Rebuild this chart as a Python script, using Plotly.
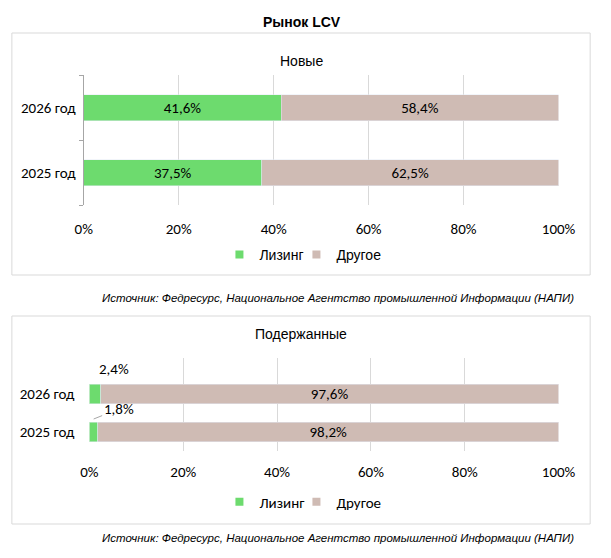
import plotly.graph_objects as go

# ---- data ----
years = ["2025 год", "2026 год"]
new_leasing = [37.5, 41.6]
new_other = [62.5, 58.4]
used_leasing = [1.8, 2.4]
used_other = [98.2, 97.6]
series_names = ["Лизинг", "Другое"]
x_ticks = [0, 20, 40, 60, 80, 100]
x_tick_labels = ["0%", "20%", "40%", "60%", "80%", "100%"]
title_text = "Рынок LCV"
panel_titles = ["Новые", "Подержанные"]
source_text = "Источник: Федресурс, Национальное Агентство промышленной Информации (НАПИ)"

GREEN = "#6DDB6E"
BEIGE = "#CFBBB4"
GRID = "#D9D9D9"
W, H = 611, 558

def px(x):
    return x / W

def py(y):
    return 1 - y / H

ARIAL = "Liberation Sans, Arial, sans-serif"
CALI = "Carlito, Lato, sans-serif"
FS = 15

fig = go.Figure()

bar_text_font = dict(family=CALI, size=FS, color="#000")

# top panel bars
fig.add_trace(go.Bar(y=years, x=new_leasing, orientation="h", marker_color=GREEN,
                     width=0.4, texttemplate="%{x:.1f}%",
                     textposition="inside", insidetextanchor="middle", constraintext="none",
                     textfont=bar_text_font,
                     xaxis="x", yaxis="y", showlegend=False, hoverinfo="skip"))
fig.add_trace(go.Bar(y=years, x=new_other, orientation="h", marker_color=BEIGE,
                     width=0.4, texttemplate="%{x:.1f}%",
                     textposition="inside", insidetextanchor="middle", constraintext="none",
                     textfont=bar_text_font,
                     xaxis="x", yaxis="y", showlegend=False, hoverinfo="skip"))
# bottom panel bars
fig.add_trace(go.Bar(y=years, x=used_leasing, orientation="h", marker_color=GREEN,
                     width=0.52, textposition="none",
                     xaxis="x2", yaxis="y2", showlegend=False, hoverinfo="skip"))
fig.add_trace(go.Bar(y=years, x=used_other, orientation="h", marker_color=BEIGE,
                     width=0.52, texttemplate="%{x:.1f}%",
                     textposition="inside", insidetextanchor="middle", constraintext="none",
                     textfont=bar_text_font,
                     xaxis="x2", yaxis="y2", showlegend=False, hoverinfo="skip"))

# legend entries (small square markers)
for lg, xa, ya in (("legend", "x", "y"), ("legend2", "x2", "y2")):
    for i, (name, col) in enumerate(zip(series_names, [GREEN, BEIGE])):
        fig.add_trace(go.Scatter(x=[None], y=[None], mode="markers", name=name,
                                 marker=dict(symbol="square", size=8, color=col),
                                 legendwidth=32 if i == 0 else None,
                                 xaxis=xa, yaxis=ya, legend=lg, showlegend=True))

# labels for small leasing values in bottom panel
annotations = []
annotations.append(dict(x=used_leasing[1], y=years[1], xref="x2", yref="y2",
                        text=f"{used_leasing[1]:.1f}%".replace(".", ","),
                        showarrow=False, xanchor="left", yanchor="middle",
                        xshift=-4, yshift=25,
                        font=dict(family=CALI, size=FS, color="#000")))
annotations.append(dict(x=used_leasing[0] / 2, y=years[0], xref="x2", yref="y2",
                        text=f"{used_leasing[0]:.1f}%".replace(".", ","),
                        showarrow=True, arrowhead=0, arrowwidth=1, arrowcolor="#A6A6A6",
                        ax=25, ay=-10, yshift=13,
                        font=dict(family=CALI, size=FS, color="#000")))

annotations += [
    dict(x=0.5, y=py(12), xref="paper", yref="paper", text=f"<b>{title_text}</b>",
         showarrow=False, font=dict(family=ARIAL, size=14, color="#000")),
    dict(x=px(305), y=py(51), xref="paper", yref="paper", text=panel_titles[0],
         showarrow=False, font=dict(family=ARIAL, size=14, color="#000")),
    dict(x=px(305), y=py(334), xref="paper", yref="paper", text=panel_titles[1],
         showarrow=False, font=dict(family=ARIAL, size=14, color="#000")),
    dict(x=px(592), y=py(298), xref="paper", yref="paper", text=f"<i>{source_text}</i>",
         showarrow=False, xanchor="right",
         font=dict(family=ARIAL, size=11.5, color="#000")),
    dict(x=px(592), y=py(546), xref="paper", yref="paper", text=f"<i>{source_text}</i>",
         showarrow=False, xanchor="right",
         font=dict(family=ARIAL, size=11.5, color="#000")),
]

shapes = [
    dict(type="rect", xref="paper", yref="paper", x0=px(3), x1=px(607), y0=py(275), y1=py(33),
         line=dict(color=GRID, width=1)),
    dict(type="rect", xref="paper", yref="paper", x0=px(3), x1=px(607), y0=py(524), y1=py(316),
         line=dict(color=GRID, width=1)),
]

xcommon = dict(range=[0, 100], tickmode="array", tickvals=x_ticks, ticktext=x_tick_labels,
               showgrid=True, gridcolor=GRID, gridwidth=1, zeroline=False, showline=False,
               ticks="", tickfont=dict(family=CALI, size=FS, color="#000"), fixedrange=True)

legend_common = dict(orientation="h", xanchor="center", yanchor="middle", itemwidth=30,
                     traceorder="normal", bgcolor="rgba(0,0,0,0)")

fig.update_layout(
    autosize=True, margin=dict(l=0, r=0, t=0, b=0),
    paper_bgcolor="white", plot_bgcolor="white",
    barmode="stack", separators=", ",
    xaxis=dict(domain=[px(78), px(574)], anchor="y", ticklabelstandoff=13, **xcommon),
    yaxis=dict(domain=[py(205), py(75)], anchor="x", categoryorder="array",
               categoryarray=years, showgrid=False, showline=True, linecolor="#A6A6A6",
               ticks="outside", ticklen=4, tickcolor="#A6A6A6", tickson="boundaries",
               ticklabelstandoff=4, fixedrange=True,
               tickfont=dict(family=CALI, size=FS, color="#000")),
    xaxis2=dict(domain=[px(84), px(574)], anchor="y2", ticklabelstandoff=10, **xcommon),
    yaxis2=dict(domain=[py(451), py(358)], anchor="x2", categoryorder="array",
                categoryarray=years, showgrid=False, showline=False, ticks="",
                ticklabelstandoff=14, fixedrange=True,
                tickfont=dict(family=CALI, size=FS, color="#000")),
    legend=dict(x=px(307), y=py(255), font=dict(family=ARIAL, size=14, color="#000"),
                **legend_common),
    legend2=dict(x=px(307), y=py(502), font=dict(family=CALI, size=FS, color="#000"),
                 **legend_common),
    annotations=annotations,
    shapes=shapes,
    showlegend=True,
)

post = (
    "document.documentElement.style.margin='0px';"
    "document.documentElement.style.height='100%';"
    "document.body.style.margin='0px';"
    "document.body.style.height='100%';"
    "document.body.style.overflow='hidden';"
    "var gd=document.getElementById('{plot_id}');"
    "Plotly.Plots.resize(gd);"
)

fig.write_html("out.html", config={"displayModeBar": False, "responsive": True},
               default_width="100vw", default_height="100vh", post_script=post)
